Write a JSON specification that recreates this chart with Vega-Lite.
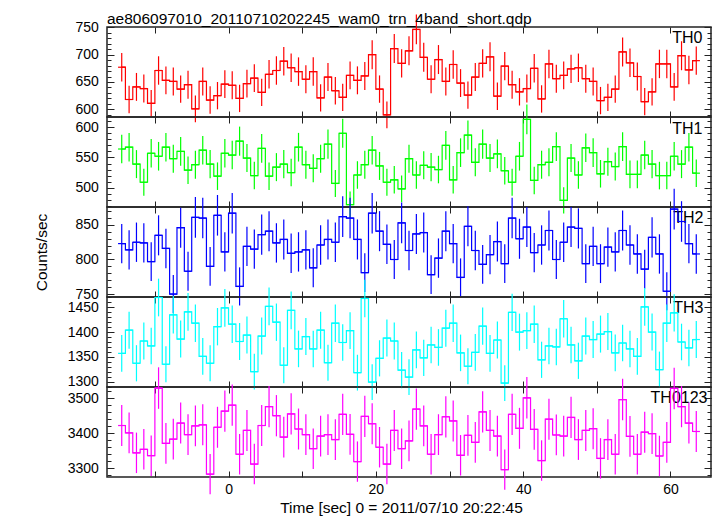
{
"$schema": "https://vega.github.io/schema/vega-lite/v6.json",
"padding": {"left": 33, "top": 11, "right": 0, "bottom": 0},
"title": {"text": "ae806097010_20110710202245_wam0_trn_4band_short.qdp", "anchor": "start", "frame": "group", "fontSize": 15.5, "offset": -26, "baseline": "alphabetic"},
"spacing": 0,
"bounds": "flush",
"config": {
 "font": "Liberation Sans",
 "view": {"stroke": "#222", "strokeWidth": 1.5},
 "axis": {"domain": false, "grid": false, "tickColor": "#222", "tickWidth": 1, "labelFontSize": 14, "labelColor": "#000", "labelFlush": false, "titleFontSize": 15.5, "titleFontWeight": "normal", "titleColor": "#000", "format": "d"},
 "title": {"fontWeight": "normal", "color": "#000"},
 "concat": {"spacing": 0}
},
"data": {"values": [
{"b":"TH0","t":-14.5,"s":-15,"f":-14,"r":677,"e":26},
{"b":"TH0","t":-13.5,"s":-14,"f":-13,"r":618,"e":25},
{"b":"TH0","t":-12.5,"s":-13,"f":-12,"r":641,"e":25.5},
{"b":"TH0","t":-11.5,"s":-12,"f":-11,"r":638,"e":25.5},
{"b":"TH0","t":-10.5,"s":-11,"f":-10,"r":611,"e":24.5},
{"b":"TH0","t":-9.5,"s":-10,"f":-9,"r":671,"e":26},
{"b":"TH0","t":-8.5,"s":-9,"f":-8,"r":653,"e":25.5},
{"b":"TH0","t":-7.5,"s":-8,"f":-7,"r":651,"e":25.5},
{"b":"TH0","t":-6.5,"s":-7,"f":-6,"r":637,"e":25},
{"b":"TH0","t":-5.5,"s":-6,"f":-5,"r":645,"e":25.5},
{"b":"TH0","t":-4.5,"s":-5,"f":-4,"r":601,"e":24.5},
{"b":"TH0","t":-3.5,"s":-4,"f":-3,"r":651,"e":25.5},
{"b":"TH0","t":-2.5,"s":-3,"f":-2,"r":617,"e":25},
{"b":"TH0","t":-1.5,"s":-2,"f":-1,"r":625,"e":25},
{"b":"TH0","t":-0.5,"s":-1,"f":0,"r":646,"e":25.5},
{"b":"TH0","t":0.5,"s":0,"f":1,"r":644,"e":25.5},
{"b":"TH0","t":1.5,"s":1,"f":2,"r":620,"e":25},
{"b":"TH0","t":2.5,"s":2,"f":3,"r":647,"e":25.5},
{"b":"TH0","t":3.5,"s":3,"f":4,"r":657,"e":25.5},
{"b":"TH0","t":4.5,"s":4,"f":5,"r":631,"e":25},
{"b":"TH0","t":5.5,"s":5,"f":6,"r":664,"e":26},
{"b":"TH0","t":6.5,"s":6,"f":7,"r":671,"e":26},
{"b":"TH0","t":7.5,"s":7,"f":8,"r":688,"e":26},
{"b":"TH0","t":8.5,"s":8,"f":9,"r":676,"e":26},
{"b":"TH0","t":9.5,"s":9,"f":10,"r":669,"e":26},
{"b":"TH0","t":10.5,"s":10,"f":11,"r":655,"e":25.5},
{"b":"TH0","t":11.5,"s":11,"f":12,"r":669,"e":26},
{"b":"TH0","t":12.5,"s":12,"f":13,"r":621,"e":25},
{"b":"TH0","t":13.5,"s":13,"f":14,"r":659,"e":25.5},
{"b":"TH0","t":14.5,"s":14,"f":15,"r":634,"e":25},
{"b":"TH0","t":15.5,"s":15,"f":16,"r":622,"e":25},
{"b":"TH0","t":16.5,"s":16,"f":17,"r":662,"e":25.5},
{"b":"TH0","t":17.5,"s":17,"f":18,"r":653,"e":25.5},
{"b":"TH0","t":18.5,"s":18,"f":19,"r":661,"e":25.5},
{"b":"TH0","t":19.5,"s":19,"f":20,"r":700,"e":26.5},
{"b":"TH0","t":20.5,"s":20,"f":21,"r":637,"e":25},
{"b":"TH0","t":21.5,"s":21,"f":22,"r":590,"e":24.5},
{"b":"TH0","t":22.5,"s":22,"f":23,"r":711,"e":26.5},
{"b":"TH0","t":23.5,"s":23,"f":24,"r":684,"e":26},
{"b":"TH0","t":24.5,"s":24,"f":25,"r":707,"e":26.5},
{"b":"TH0","t":25.5,"s":25,"f":26,"r":746,"e":27.2},
{"b":"TH0","t":26.5,"s":26,"f":27,"r":695,"e":26.5},
{"b":"TH0","t":27.5,"s":27,"f":28,"r":655,"e":25.5},
{"b":"TH0","t":28.5,"s":28,"f":29,"r":691,"e":26.5},
{"b":"TH0","t":29.5,"s":29,"f":30,"r":651,"e":25.5},
{"b":"TH0","t":30.5,"s":30,"f":31,"r":682,"e":26},
{"b":"TH0","t":31.5,"s":31,"f":32,"r":648,"e":25.5},
{"b":"TH0","t":32.5,"s":32,"f":33,"r":626,"e":25},
{"b":"TH0","t":33.5,"s":33,"f":34,"r":659,"e":25.5},
{"b":"TH0","t":34.5,"s":34,"f":35,"r":684,"e":26},
{"b":"TH0","t":35.5,"s":35,"f":36,"r":696,"e":26.5},
{"b":"TH0","t":36.5,"s":36,"f":37,"r":624,"e":25},
{"b":"TH0","t":37.5,"s":37,"f":38,"r":679,"e":26},
{"b":"TH0","t":38.5,"s":38,"f":39,"r":645,"e":25.5},
{"b":"TH0","t":39.5,"s":39,"f":40,"r":632,"e":25},
{"b":"TH0","t":40.5,"s":40,"f":41,"r":638,"e":25.5},
{"b":"TH0","t":41.5,"s":41,"f":42,"r":675,"e":26},
{"b":"TH0","t":42.5,"s":42,"f":43,"r":619,"e":25},
{"b":"TH0","t":43.5,"s":43,"f":44,"r":683,"e":26},
{"b":"TH0","t":44.5,"s":44,"f":45,"r":656,"e":25.5},
{"b":"TH0","t":45.5,"s":45,"f":46,"r":662,"e":25.5},
{"b":"TH0","t":46.5,"s":46,"f":47,"r":674,"e":26},
{"b":"TH0","t":47.5,"s":47,"f":48,"r":676,"e":26},
{"b":"TH0","t":48.5,"s":48,"f":49,"r":656,"e":25.5},
{"b":"TH0","t":49.5,"s":49,"f":50,"r":651,"e":25.5},
{"b":"TH0","t":50.5,"s":50,"f":51,"r":616,"e":25},
{"b":"TH0","t":51.5,"s":51,"f":52,"r":622,"e":25},
{"b":"TH0","t":52.5,"s":52,"f":53,"r":637,"e":25},
{"b":"TH0","t":53.5,"s":53,"f":54,"r":705,"e":26.5},
{"b":"TH0","t":54.5,"s":54,"f":55,"r":685,"e":26},
{"b":"TH0","t":55.5,"s":55,"f":56,"r":660,"e":25.5},
{"b":"TH0","t":56.5,"s":56,"f":57,"r":614,"e":25},
{"b":"TH0","t":57.5,"s":57,"f":58,"r":632,"e":25},
{"b":"TH0","t":58.5,"s":58,"f":59,"r":683,"e":26},
{"b":"TH0","t":59.5,"s":59,"f":60,"r":683,"e":26},
{"b":"TH0","t":60.5,"s":60,"f":61,"r":641,"e":25.5},
{"b":"TH0","t":61.5,"s":61,"f":62,"r":698,"e":26.5},
{"b":"TH0","t":62.5,"s":62,"f":63,"r":672,"e":26},
{"b":"TH0","t":63.5,"s":63,"f":64,"r":689,"e":26},
{"b":"TH1","t":-14.5,"s":-15,"f":-14,"r":564,"e":23.7},
{"b":"TH1","t":-13.5,"s":-14,"f":-13,"r":567,"e":23.7},
{"b":"TH1","t":-12.5,"s":-13,"f":-12,"r":539,"e":23.2},
{"b":"TH1","t":-11.5,"s":-12,"f":-11,"r":509,"e":22.3},
{"b":"TH1","t":-10.5,"s":-11,"f":-10,"r":557,"e":23.7},
{"b":"TH1","t":-9.5,"s":-10,"f":-9,"r":552,"e":23.7},
{"b":"TH1","t":-8.5,"s":-9,"f":-8,"r":567,"e":23.7},
{"b":"TH1","t":-7.5,"s":-8,"f":-7,"r":548,"e":23.2},
{"b":"TH1","t":-6.5,"s":-7,"f":-6,"r":560,"e":23.7},
{"b":"TH1","t":-5.5,"s":-6,"f":-5,"r":529,"e":22.8},
{"b":"TH1","t":-4.5,"s":-5,"f":-4,"r":538,"e":23.2},
{"b":"TH1","t":-3.5,"s":-4,"f":-3,"r":562,"e":23.7},
{"b":"TH1","t":-2.5,"s":-3,"f":-2,"r":539,"e":23.2},
{"b":"TH1","t":-1.5,"s":-2,"f":-1,"r":519,"e":22.8},
{"b":"TH1","t":-0.5,"s":-1,"f":0,"r":557,"e":23.7},
{"b":"TH1","t":0.5,"s":0,"f":1,"r":554,"e":23.7},
{"b":"TH1","t":1.5,"s":1,"f":2,"r":577,"e":24.1},
{"b":"TH1","t":2.5,"s":2,"f":3,"r":549,"e":23.2},
{"b":"TH1","t":3.5,"s":3,"f":4,"r":520,"e":22.8},
{"b":"TH1","t":4.5,"s":4,"f":5,"r":565,"e":23.7},
{"b":"TH1","t":5.5,"s":5,"f":6,"r":519,"e":22.8},
{"b":"TH1","t":6.5,"s":6,"f":7,"r":534,"e":23.2},
{"b":"TH1","t":7.5,"s":7,"f":8,"r":539,"e":23.2},
{"b":"TH1","t":8.5,"s":8,"f":9,"r":525,"e":22.8},
{"b":"TH1","t":9.5,"s":9,"f":10,"r":567,"e":23.7},
{"b":"TH1","t":10.5,"s":10,"f":11,"r":538,"e":23.2},
{"b":"TH1","t":11.5,"s":11,"f":12,"r":532,"e":23.2},
{"b":"TH1","t":12.5,"s":12,"f":13,"r":548,"e":23.2},
{"b":"TH1","t":13.5,"s":13,"f":14,"r":572,"e":24.1},
{"b":"TH1","t":14.5,"s":14,"f":15,"r":507,"e":22.3},
{"b":"TH1","t":15.5,"s":15,"f":16,"r":590,"e":24.1},
{"b":"TH1","t":16.5,"s":16,"f":17,"r":472,"e":21.8},
{"b":"TH1","t":17.5,"s":17,"f":18,"r":521,"e":22.8},
{"b":"TH1","t":18.5,"s":18,"f":19,"r":538,"e":23.2},
{"b":"TH1","t":19.5,"s":19,"f":20,"r":562,"e":23.7},
{"b":"TH1","t":20.5,"s":20,"f":21,"r":536,"e":23.2},
{"b":"TH1","t":21.5,"s":21,"f":22,"r":509,"e":22.3},
{"b":"TH1","t":22.5,"s":22,"f":23,"r":513,"e":22.8},
{"b":"TH1","t":23.5,"s":23,"f":24,"r":498,"e":22.3},
{"b":"TH1","t":24.5,"s":24,"f":25,"r":548,"e":23.2},
{"b":"TH1","t":25.5,"s":25,"f":26,"r":521,"e":22.8},
{"b":"TH1","t":26.5,"s":26,"f":27,"r":537,"e":23.2},
{"b":"TH1","t":27.5,"s":27,"f":28,"r":534,"e":23.2},
{"b":"TH1","t":28.5,"s":28,"f":29,"r":530,"e":22.8},
{"b":"TH1","t":29.5,"s":29,"f":30,"r":570,"e":23.7},
{"b":"TH1","t":30.5,"s":30,"f":31,"r":513,"e":22.8},
{"b":"TH1","t":31.5,"s":31,"f":32,"r":558,"e":23.7},
{"b":"TH1","t":32.5,"s":32,"f":33,"r":587,"e":24.1},
{"b":"TH1","t":33.5,"s":33,"f":34,"r":542,"e":23.2},
{"b":"TH1","t":34.5,"s":34,"f":35,"r":572,"e":24.1},
{"b":"TH1","t":35.5,"s":35,"f":36,"r":549,"e":23.2},
{"b":"TH1","t":36.5,"s":36,"f":37,"r":556,"e":23.7},
{"b":"TH1","t":37.5,"s":37,"f":38,"r":528,"e":22.8},
{"b":"TH1","t":38.5,"s":38,"f":39,"r":509,"e":22.3},
{"b":"TH1","t":39.5,"s":39,"f":40,"r":552,"e":23.7},
{"b":"TH1","t":40.5,"s":40,"f":41,"r":613,"e":24.7},
{"b":"TH1","t":41.5,"s":41,"f":42,"r":512,"e":22.8},
{"b":"TH1","t":42.5,"s":42,"f":43,"r":538,"e":23.2},
{"b":"TH1","t":43.5,"s":43,"f":44,"r":542,"e":23.2},
{"b":"TH1","t":44.5,"s":44,"f":45,"r":568,"e":23.7},
{"b":"TH1","t":45.5,"s":45,"f":46,"r":479,"e":21.8},
{"b":"TH1","t":46.5,"s":46,"f":47,"r":549,"e":23.2},
{"b":"TH1","t":47.5,"s":47,"f":48,"r":521,"e":22.8},
{"b":"TH1","t":48.5,"s":48,"f":49,"r":566,"e":23.7},
{"b":"TH1","t":49.5,"s":49,"f":50,"r":558,"e":23.7},
{"b":"TH1","t":50.5,"s":50,"f":51,"r":523,"e":22.8},
{"b":"TH1","t":51.5,"s":51,"f":52,"r":543,"e":23.2},
{"b":"TH1","t":52.5,"s":52,"f":53,"r":535,"e":23.2},
{"b":"TH1","t":53.5,"s":53,"f":54,"r":568,"e":23.7},
{"b":"TH1","t":54.5,"s":54,"f":55,"r":522,"e":22.8},
{"b":"TH1","t":55.5,"s":55,"f":56,"r":522,"e":22.8},
{"b":"TH1","t":56.5,"s":56,"f":57,"r":554,"e":23.7},
{"b":"TH1","t":57.5,"s":57,"f":58,"r":539,"e":23.2},
{"b":"TH1","t":58.5,"s":58,"f":59,"r":520,"e":22.8},
{"b":"TH1","t":59.5,"s":59,"f":60,"r":520,"e":22.8},
{"b":"TH1","t":60.5,"s":60,"f":61,"r":552,"e":23.7},
{"b":"TH1","t":61.5,"s":61,"f":62,"r":539,"e":23.2},
{"b":"TH1","t":62.5,"s":62,"f":63,"r":567,"e":23.7},
{"b":"TH1","t":63.5,"s":63,"f":64,"r":524,"e":22.8},
{"b":"TH2","t":-14.5,"s":-15,"f":-14,"r":823,"e":28.5},
{"b":"TH2","t":-13.5,"s":-14,"f":-13,"r":814,"e":28.5},
{"b":"TH2","t":-12.5,"s":-13,"f":-12,"r":825,"e":28.5},
{"b":"TH2","t":-11.5,"s":-12,"f":-11,"r":824,"e":28.5},
{"b":"TH2","t":-10.5,"s":-11,"f":-10,"r":797,"e":28.1},
{"b":"TH2","t":-9.5,"s":-10,"f":-9,"r":835,"e":29},
{"b":"TH2","t":-8.5,"s":-9,"f":-8,"r":816,"e":28.5},
{"b":"TH2","t":-7.5,"s":-8,"f":-7,"r":750,"e":27.6},
{"b":"TH2","t":-6.5,"s":-7,"f":-6,"r":846,"e":29},
{"b":"TH2","t":-5.5,"s":-6,"f":-5,"r":783,"e":28.1},
{"b":"TH2","t":-4.5,"s":-5,"f":-4,"r":861,"e":29.4},
{"b":"TH2","t":-3.5,"s":-4,"f":-3,"r":860,"e":29.4},
{"b":"TH2","t":-2.5,"s":-3,"f":-2,"r":790,"e":28.1},
{"b":"TH2","t":-1.5,"s":-2,"f":-1,"r":864,"e":29.4},
{"b":"TH2","t":-0.5,"s":-1,"f":0,"r":811,"e":28.5},
{"b":"TH2","t":0.5,"s":0,"f":1,"r":867,"e":29.4},
{"b":"TH2","t":1.5,"s":1,"f":2,"r":761,"e":27.6},
{"b":"TH2","t":2.5,"s":2,"f":3,"r":819,"e":28.5},
{"b":"TH2","t":3.5,"s":3,"f":4,"r":815,"e":28.5},
{"b":"TH2","t":4.5,"s":4,"f":5,"r":836,"e":29},
{"b":"TH2","t":5.5,"s":5,"f":6,"r":841,"e":29},
{"b":"TH2","t":6.5,"s":6,"f":7,"r":824,"e":28.5},
{"b":"TH2","t":7.5,"s":7,"f":8,"r":829,"e":29},
{"b":"TH2","t":8.5,"s":8,"f":9,"r":809,"e":28.5},
{"b":"TH2","t":9.5,"s":9,"f":10,"r":811,"e":28.5},
{"b":"TH2","t":10.5,"s":10,"f":11,"r":814,"e":28.5},
{"b":"TH2","t":11.5,"s":11,"f":12,"r":788,"e":28.1},
{"b":"TH2","t":12.5,"s":12,"f":13,"r":821,"e":28.5},
{"b":"TH2","t":13.5,"s":13,"f":14,"r":829,"e":29},
{"b":"TH2","t":14.5,"s":14,"f":15,"r":825,"e":28.5},
{"b":"TH2","t":15.5,"s":15,"f":16,"r":862,"e":29.4},
{"b":"TH2","t":16.5,"s":16,"f":17,"r":860,"e":29.4},
{"b":"TH2","t":17.5,"s":17,"f":18,"r":829,"e":29},
{"b":"TH2","t":18.5,"s":18,"f":19,"r":781,"e":28.1},
{"b":"TH2","t":19.5,"s":19,"f":20,"r":867,"e":29.4},
{"b":"TH2","t":20.5,"s":20,"f":21,"r":841,"e":29},
{"b":"TH2","t":21.5,"s":21,"f":22,"r":822,"e":28.5},
{"b":"TH2","t":22.5,"s":22,"f":23,"r":800,"e":28.1},
{"b":"TH2","t":23.5,"s":23,"f":24,"r":853,"e":29.4},
{"b":"TH2","t":24.5,"s":24,"f":25,"r":813,"e":28.5},
{"b":"TH2","t":25.5,"s":25,"f":26,"r":837,"e":29},
{"b":"TH2","t":26.5,"s":26,"f":27,"r":839,"e":29},
{"b":"TH2","t":27.5,"s":27,"f":28,"r":778,"e":28.1},
{"b":"TH2","t":28.5,"s":28,"f":29,"r":802,"e":28.5},
{"b":"TH2","t":29.5,"s":29,"f":30,"r":841,"e":29},
{"b":"TH2","t":30.5,"s":30,"f":31,"r":823,"e":28.5},
{"b":"TH2","t":31.5,"s":31,"f":32,"r":774,"e":27.6},
{"b":"TH2","t":32.5,"s":32,"f":33,"r":848,"e":29},
{"b":"TH2","t":33.5,"s":33,"f":34,"r":813,"e":28.5},
{"b":"TH2","t":34.5,"s":34,"f":35,"r":793,"e":28.1},
{"b":"TH2","t":35.5,"s":35,"f":36,"r":807,"e":28.5},
{"b":"TH2","t":36.5,"s":36,"f":37,"r":826,"e":29},
{"b":"TH2","t":37.5,"s":37,"f":38,"r":794,"e":28.1},
{"b":"TH2","t":38.5,"s":38,"f":39,"r":860,"e":29.4},
{"b":"TH2","t":39.5,"s":39,"f":40,"r":830,"e":29},
{"b":"TH2","t":40.5,"s":40,"f":41,"r":847,"e":29},
{"b":"TH2","t":41.5,"s":41,"f":42,"r":810,"e":28.5},
{"b":"TH2","t":42.5,"s":42,"f":43,"r":821,"e":28.5},
{"b":"TH2","t":43.5,"s":43,"f":44,"r":842,"e":29},
{"b":"TH2","t":44.5,"s":44,"f":45,"r":800,"e":28.1},
{"b":"TH2","t":45.5,"s":45,"f":46,"r":825,"e":28.5},
{"b":"TH2","t":46.5,"s":46,"f":47,"r":847,"e":29},
{"b":"TH2","t":47.5,"s":47,"f":48,"r":845,"e":29},
{"b":"TH2","t":48.5,"s":48,"f":49,"r":794,"e":28.1},
{"b":"TH2","t":49.5,"s":49,"f":50,"r":819,"e":28.5},
{"b":"TH2","t":50.5,"s":50,"f":51,"r":794,"e":28.1},
{"b":"TH2","t":51.5,"s":51,"f":52,"r":818,"e":28.5},
{"b":"TH2","t":52.5,"s":52,"f":53,"r":811,"e":28.5},
{"b":"TH2","t":53.5,"s":53,"f":54,"r":842,"e":29},
{"b":"TH2","t":54.5,"s":54,"f":55,"r":821,"e":28.5},
{"b":"TH2","t":55.5,"s":55,"f":56,"r":808,"e":28.5},
{"b":"TH2","t":56.5,"s":56,"f":57,"r":786,"e":28.1},
{"b":"TH2","t":57.5,"s":57,"f":58,"r":832,"e":29},
{"b":"TH2","t":58.5,"s":58,"f":59,"r":808,"e":28.5},
{"b":"TH2","t":59.5,"s":59,"f":60,"r":754,"e":27.6},
{"b":"TH2","t":60.5,"s":60,"f":61,"r":873,"e":29.4},
{"b":"TH2","t":61.5,"s":61,"f":62,"r":855,"e":29.4},
{"b":"TH2","t":62.5,"s":62,"f":63,"r":823,"e":28.5},
{"b":"TH2","t":63.5,"s":63,"f":64,"r":808,"e":28.5},
{"b":"TH3","t":-14.5,"s":-15,"f":-14,"r":1357,"e":37},
{"b":"TH3","t":-13.5,"s":-14,"f":-13,"r":1404,"e":37.4},
{"b":"TH3","t":-12.5,"s":-13,"f":-12,"r":1337,"e":36.6},
{"b":"TH3","t":-11.5,"s":-12,"f":-11,"r":1382,"e":37.4},
{"b":"TH3","t":-10.5,"s":-11,"f":-10,"r":1372,"e":37},
{"b":"TH3","t":-9.5,"s":-10,"f":-9,"r":1470,"e":38.1},
{"b":"TH3","t":-8.5,"s":-9,"f":-8,"r":1335,"e":36.6},
{"b":"TH3","t":-7.5,"s":-8,"f":-7,"r":1435,"e":37.8},
{"b":"TH3","t":-6.5,"s":-7,"f":-6,"r":1386,"e":37.4},
{"b":"TH3","t":-5.5,"s":-6,"f":-5,"r":1441,"e":38.1},
{"b":"TH3","t":-4.5,"s":-5,"f":-4,"r":1418,"e":37.8},
{"b":"TH3","t":-3.5,"s":-4,"f":-3,"r":1351,"e":37},
{"b":"TH3","t":-2.5,"s":-3,"f":-2,"r":1337,"e":36.6},
{"b":"TH3","t":-1.5,"s":-2,"f":-1,"r":1411,"e":37.8},
{"b":"TH3","t":-0.5,"s":-1,"f":0,"r":1449,"e":38.1},
{"b":"TH3","t":0.5,"s":0,"f":1,"r":1416,"e":37.8},
{"b":"TH3","t":1.5,"s":1,"f":2,"r":1381,"e":37.4},
{"b":"TH3","t":2.5,"s":2,"f":3,"r":1394,"e":37.4},
{"b":"TH3","t":3.5,"s":3,"f":4,"r":1320,"e":36.2},
{"b":"TH3","t":4.5,"s":4,"f":5,"r":1392,"e":37.4},
{"b":"TH3","t":5.5,"s":5,"f":6,"r":1452,"e":38.1},
{"b":"TH3","t":6.5,"s":6,"f":7,"r":1420,"e":37.8},
{"b":"TH3","t":7.5,"s":7,"f":8,"r":1333,"e":36.6},
{"b":"TH3","t":8.5,"s":8,"f":9,"r":1444,"e":38.1},
{"b":"TH3","t":9.5,"s":9,"f":10,"r":1366,"e":37},
{"b":"TH3","t":10.5,"s":10,"f":11,"r":1391,"e":37.4},
{"b":"TH3","t":11.5,"s":11,"f":12,"r":1366,"e":37},
{"b":"TH3","t":12.5,"s":12,"f":13,"r":1404,"e":37.4},
{"b":"TH3","t":13.5,"s":13,"f":14,"r":1338,"e":36.6},
{"b":"TH3","t":14.5,"s":14,"f":15,"r":1418,"e":37.8},
{"b":"TH3","t":15.5,"s":15,"f":16,"r":1379,"e":37},
{"b":"TH3","t":16.5,"s":16,"f":17,"r":1403,"e":37.4},
{"b":"TH3","t":17.5,"s":17,"f":18,"r":1318,"e":36.2},
{"b":"TH3","t":18.5,"s":18,"f":19,"r":1468,"e":38.1},
{"b":"TH3","t":19.5,"s":19,"f":20,"r":1299,"e":36.2},
{"b":"TH3","t":20.5,"s":20,"f":21,"r":1347,"e":36.6},
{"b":"TH3","t":21.5,"s":21,"f":22,"r":1388,"e":37.4},
{"b":"TH3","t":22.5,"s":22,"f":23,"r":1382,"e":37.4},
{"b":"TH3","t":23.5,"s":23,"f":24,"r":1323,"e":36.6},
{"b":"TH3","t":24.5,"s":24,"f":25,"r":1309,"e":36.2},
{"b":"TH3","t":25.5,"s":25,"f":26,"r":1364,"e":37},
{"b":"TH3","t":26.5,"s":26,"f":27,"r":1348,"e":36.6},
{"b":"TH3","t":27.5,"s":27,"f":28,"r":1374,"e":37},
{"b":"TH3","t":28.5,"s":28,"f":29,"r":1369,"e":37},
{"b":"TH3","t":29.5,"s":29,"f":30,"r":1408,"e":37.4},
{"b":"TH3","t":30.5,"s":30,"f":31,"r":1418,"e":37.8},
{"b":"TH3","t":31.5,"s":31,"f":32,"r":1358,"e":37},
{"b":"TH3","t":32.5,"s":32,"f":33,"r":1331,"e":36.6},
{"b":"TH3","t":33.5,"s":33,"f":34,"r":1359,"e":37},
{"b":"TH3","t":34.5,"s":34,"f":35,"r":1412,"e":37.8},
{"b":"TH3","t":35.5,"s":35,"f":36,"r":1357,"e":37},
{"b":"TH3","t":36.5,"s":36,"f":37,"r":1384,"e":37.4},
{"b":"TH3","t":37.5,"s":37,"f":38,"r":1297,"e":36.2},
{"b":"TH3","t":38.5,"s":38,"f":39,"r":1440,"e":37.8},
{"b":"TH3","t":39.5,"s":39,"f":40,"r":1400,"e":37.4},
{"b":"TH3","t":40.5,"s":40,"f":41,"r":1403,"e":37.4},
{"b":"TH3","t":41.5,"s":41,"f":42,"r":1416,"e":37.8},
{"b":"TH3","t":42.5,"s":42,"f":43,"r":1344,"e":36.6},
{"b":"TH3","t":43.5,"s":43,"f":44,"r":1372,"e":37},
{"b":"TH3","t":44.5,"s":44,"f":45,"r":1370,"e":37},
{"b":"TH3","t":45.5,"s":45,"f":46,"r":1427,"e":37.8},
{"b":"TH3","t":46.5,"s":46,"f":47,"r":1374,"e":37},
{"b":"TH3","t":47.5,"s":47,"f":48,"r":1342,"e":36.6},
{"b":"TH3","t":48.5,"s":48,"f":49,"r":1392,"e":37.4},
{"b":"TH3","t":49.5,"s":49,"f":50,"r":1385,"e":37.4},
{"b":"TH3","t":50.5,"s":50,"f":51,"r":1396,"e":37.4},
{"b":"TH3","t":51.5,"s":51,"f":52,"r":1401,"e":37.4},
{"b":"TH3","t":52.5,"s":52,"f":53,"r":1358,"e":37},
{"b":"TH3","t":53.5,"s":53,"f":54,"r":1378,"e":37},
{"b":"TH3","t":54.5,"s":54,"f":55,"r":1366,"e":37},
{"b":"TH3","t":55.5,"s":55,"f":56,"r":1351,"e":37},
{"b":"TH3","t":56.5,"s":56,"f":57,"r":1451,"e":38.1},
{"b":"TH3","t":57.5,"s":57,"f":58,"r":1400,"e":37.4},
{"b":"TH3","t":58.5,"s":58,"f":59,"r":1324,"e":36.6},
{"b":"TH3","t":59.5,"s":59,"f":60,"r":1418,"e":37.8},
{"b":"TH3","t":60.5,"s":60,"f":61,"r":1439,"e":37.8},
{"b":"TH3","t":61.5,"s":61,"f":62,"r":1380,"e":37},
{"b":"TH3","t":62.5,"s":62,"f":63,"r":1368,"e":37},
{"b":"TH3","t":63.5,"s":63,"f":64,"r":1385,"e":37.4},
{"b":"TH0123","t":-14.5,"s":-15,"f":-14,"r":3422,"e":58.5},
{"b":"TH0123","t":-13.5,"s":-14,"f":-13,"r":3401,"e":58.5},
{"b":"TH0123","t":-12.5,"s":-13,"f":-12,"r":3344,"e":57.8},
{"b":"TH0123","t":-11.5,"s":-12,"f":-11,"r":3354,"e":57.8},
{"b":"TH0123","t":-10.5,"s":-11,"f":-10,"r":3336,"e":57.8},
{"b":"TH0123","t":-9.5,"s":-10,"f":-9,"r":3529,"e":59.3},
{"b":"TH0123","t":-8.5,"s":-9,"f":-8,"r":3371,"e":58.2},
{"b":"TH0123","t":-7.5,"s":-8,"f":-7,"r":3383,"e":58.2},
{"b":"TH0123","t":-6.5,"s":-7,"f":-6,"r":3429,"e":58.5},
{"b":"TH0123","t":-5.5,"s":-6,"f":-5,"r":3396,"e":58.2},
{"b":"TH0123","t":-4.5,"s":-5,"f":-4,"r":3421,"e":58.5},
{"b":"TH0123","t":-3.5,"s":-4,"f":-3,"r":3424,"e":58.5},
{"b":"TH0123","t":-2.5,"s":-3,"f":-2,"r":3283,"e":57.6},
{"b":"TH0123","t":-1.5,"s":-2,"f":-1,"r":3417,"e":58.5},
{"b":"TH0123","t":-0.5,"s":-1,"f":0,"r":3463,"e":58.9},
{"b":"TH0123","t":0.5,"s":0,"f":1,"r":3480,"e":58.9},
{"b":"TH0123","t":1.5,"s":1,"f":2,"r":3340,"e":57.8},
{"b":"TH0123","t":2.5,"s":2,"f":3,"r":3408,"e":58.5},
{"b":"TH0123","t":3.5,"s":3,"f":4,"r":3312,"e":57.6},
{"b":"TH0123","t":4.5,"s":4,"f":5,"r":3422,"e":58.5},
{"b":"TH0123","t":5.5,"s":5,"f":6,"r":3476,"e":58.9},
{"b":"TH0123","t":6.5,"s":6,"f":7,"r":3450,"e":58.9},
{"b":"TH0123","t":7.5,"s":7,"f":8,"r":3389,"e":58.2},
{"b":"TH0123","t":8.5,"s":8,"f":9,"r":3455,"e":58.9},
{"b":"TH0123","t":9.5,"s":9,"f":10,"r":3412,"e":58.5},
{"b":"TH0123","t":10.5,"s":10,"f":11,"r":3396,"e":58.2},
{"b":"TH0123","t":11.5,"s":11,"f":12,"r":3356,"e":57.8},
{"b":"TH0123","t":12.5,"s":12,"f":13,"r":3392,"e":58.2},
{"b":"TH0123","t":13.5,"s":13,"f":14,"r":3396,"e":58.2},
{"b":"TH0123","t":14.5,"s":14,"f":15,"r":3382,"e":58.2},
{"b":"TH0123","t":15.5,"s":15,"f":16,"r":3454,"e":58.9},
{"b":"TH0123","t":16.5,"s":16,"f":17,"r":3397,"e":58.2},
{"b":"TH0123","t":17.5,"s":17,"f":18,"r":3319,"e":57.6},
{"b":"TH0123","t":18.5,"s":18,"f":19,"r":3448,"e":58.9},
{"b":"TH0123","t":19.5,"s":19,"f":20,"r":3427,"e":58.5},
{"b":"TH0123","t":20.5,"s":20,"f":21,"r":3360,"e":57.8},
{"b":"TH0123","t":21.5,"s":21,"f":22,"r":3312,"e":57.6},
{"b":"TH0123","t":22.5,"s":22,"f":23,"r":3408,"e":58.5},
{"b":"TH0123","t":23.5,"s":23,"f":24,"r":3356,"e":57.8},
{"b":"TH0123","t":24.5,"s":24,"f":25,"r":3378,"e":58.2},
{"b":"TH0123","t":25.5,"s":25,"f":26,"r":3469,"e":58.9},
{"b":"TH0123","t":26.5,"s":26,"f":27,"r":3421,"e":58.5},
{"b":"TH0123","t":27.5,"s":27,"f":28,"r":3340,"e":57.8},
{"b":"TH0123","t":28.5,"s":28,"f":29,"r":3396,"e":58.2},
{"b":"TH0123","t":29.5,"s":29,"f":30,"r":3447,"e":58.9},
{"b":"TH0123","t":30.5,"s":30,"f":31,"r":3435,"e":58.5},
{"b":"TH0123","t":31.5,"s":31,"f":32,"r":3337,"e":57.8},
{"b":"TH0123","t":32.5,"s":32,"f":33,"r":3394,"e":58.2},
{"b":"TH0123","t":33.5,"s":33,"f":34,"r":3374,"e":58.2},
{"b":"TH0123","t":34.5,"s":34,"f":35,"r":3461,"e":58.9},
{"b":"TH0123","t":35.5,"s":35,"f":36,"r":3408,"e":58.5},
{"b":"TH0123","t":36.5,"s":36,"f":37,"r":3392,"e":58.2},
{"b":"TH0123","t":37.5,"s":37,"f":38,"r":3296,"e":57.6},
{"b":"TH0123","t":38.5,"s":38,"f":39,"r":3454,"e":58.9},
{"b":"TH0123","t":39.5,"s":39,"f":40,"r":3414,"e":58.5},
{"b":"TH0123","t":40.5,"s":40,"f":41,"r":3501,"e":59.3},
{"b":"TH0123","t":41.5,"s":41,"f":42,"r":3411,"e":58.5},
{"b":"TH0123","t":42.5,"s":42,"f":43,"r":3322,"e":57.8},
{"b":"TH0123","t":43.5,"s":43,"f":44,"r":3440,"e":58.5},
{"b":"TH0123","t":44.5,"s":44,"f":45,"r":3395,"e":58.2},
{"b":"TH0123","t":45.5,"s":45,"f":46,"r":3392,"e":58.2},
{"b":"TH0123","t":46.5,"s":46,"f":47,"r":3445,"e":58.9},
{"b":"TH0123","t":47.5,"s":47,"f":48,"r":3382,"e":58.2},
{"b":"TH0123","t":48.5,"s":48,"f":49,"r":3408,"e":58.5},
{"b":"TH0123","t":49.5,"s":49,"f":50,"r":3413,"e":58.5},
{"b":"TH0123","t":50.5,"s":50,"f":51,"r":3328,"e":57.8},
{"b":"TH0123","t":51.5,"s":51,"f":52,"r":3382,"e":58.2},
{"b":"TH0123","t":52.5,"s":52,"f":53,"r":3340,"e":57.8},
{"b":"TH0123","t":53.5,"s":53,"f":54,"r":3496,"e":59.3},
{"b":"TH0123","t":54.5,"s":54,"f":55,"r":3391,"e":58.2},
{"b":"TH0123","t":55.5,"s":55,"f":56,"r":3340,"e":57.8},
{"b":"TH0123","t":56.5,"s":56,"f":57,"r":3403,"e":58.5},
{"b":"TH0123","t":57.5,"s":57,"f":58,"r":3399,"e":58.2},
{"b":"TH0123","t":58.5,"s":58,"f":59,"r":3335,"e":57.8},
{"b":"TH0123","t":59.5,"s":59,"f":60,"r":3374,"e":58.2},
{"b":"TH0123","t":60.5,"s":60,"f":61,"r":3528,"e":59.3},
{"b":"TH0123","t":61.5,"s":61,"f":62,"r":3476,"e":58.9},
{"b":"TH0123","t":62.5,"s":62,"f":63,"r":3429,"e":58.5},
{"b":"TH0123","t":63.5,"s":63,"f":64,"r":3405,"e":58.5}
]},
"vconcat": [
{
 "width": 604, "height": 90,
 "transform": [{"filter": "datum.b === 'TH0'"}],
 "layer": [
  {"mark": {"type": "line", "interpolate": "step", "color": "#ff0000", "strokeWidth": 1.2},
   "encoding": {
    "x": {"field": "t", "type": "quantitative", "scale": {"domain": [-16.5, 65.5], "nice": false, "zero": false}, "axis": {"orient": "bottom", "values": [-10,0,10,20,30,40,50,60], "tickSize": -6, "labels": false, "title": null}},
    "y": {"field": "r", "type": "quantitative", "scale": {"domain": [586, 750.5], "nice": false, "zero": false}, "axis": {"orient": "left", "values": [600,650,700,750], "tickSize": -7, "labelPadding": 15.7, "title": null}}
   }},
  {"mark": {"type": "errorbar", "color": "#ff0000", "thickness": 1.2},
   "encoding": {
    "x": {"field": "t", "type": "quantitative", "scale": {"domain": [-16.5, 65.5], "nice": false, "zero": false}, "axis": {"orient": "top", "values": [-10,0,10,20,30,40,50,60], "tickSize": -6, "labels": false, "title": null}},
    "y": {"field": "r", "type": "quantitative", "scale": {"domain": [586, 750.5], "nice": false, "zero": false}, "axis": {"orient": "left", "values": [590,600,610,620,630,640,650,660,670,680,690,700,710,720,730,740,750], "tickSize": -4, "labels": false, "title": null}},
    "yError": {"field": "e"}
   }},
  {"mark": {"type": "rule", "color": "#ff0000", "strokeWidth": 1.2},
   "encoding": {
    "x": {"field": "s", "type": "quantitative", "scale": {"domain": [-16.5, 65.5], "nice": false, "zero": false}, "axis": null},
    "x2": {"field": "f"},
    "y": {"field": "r", "type": "quantitative", "scale": {"domain": [586, 750.5], "nice": false, "zero": false}, "axis": {"orient": "right", "values": [600,650,700,750], "tickSize": -7, "labels": false, "title": null}}
   }},
  {"mark": {"type": "rule", "opacity": 0},
   "encoding": {
    "x": {"field": "s", "type": "quantitative", "scale": {"domain": [-16.5, 65.5], "nice": false, "zero": false}, "axis": null},
    "x2": {"field": "f"},
    "y": {"field": "r", "type": "quantitative", "scale": {"domain": [586, 750.5], "nice": false, "zero": false}, "axis": {"orient": "right", "values": [590,600,610,620,630,640,650,660,670,680,690,700,710,720,730,740,750], "tickSize": -4, "labels": false, "title": "TH0", "titleX": -9, "titleY": 15.7, "titleAngle": 0, "titleAlign": "right", "titleBaseline": "alphabetic", "titleFontSize": 16}}
   }}
 ],
 "resolve": {"axis": {"x": "independent", "y": "independent"}}
},
{
 "width": 604, "height": 90,
 "transform": [{"filter": "datum.b === 'TH1'"}],
 "layer": [
  {"mark": {"type": "line", "interpolate": "step", "color": "#00ff00", "strokeWidth": 1.2},
   "encoding": {
    "x": {"field": "t", "type": "quantitative", "scale": {"domain": [-16.5, 65.5], "nice": false, "zero": false}, "axis": {"orient": "bottom", "values": [-10,0,10,20,30,40,50,60], "tickSize": -6, "labels": false, "title": null}},
    "y": {"field": "r", "type": "quantitative", "scale": {"domain": [468, 617], "nice": false, "zero": false}, "axis": {"orient": "left", "values": [500,550,600], "tickSize": -7, "labelPadding": 15.7, "title": null}}
   }},
  {"mark": {"type": "errorbar", "color": "#00ff00", "thickness": 1.2},
   "encoding": {
    "x": {"field": "t", "type": "quantitative", "scale": {"domain": [-16.5, 65.5], "nice": false, "zero": false}, "axis": {"orient": "top", "values": [-10,0,10,20,30,40,50,60], "tickSize": -6, "labels": false, "title": null}},
    "y": {"field": "r", "type": "quantitative", "scale": {"domain": [468, 617], "nice": false, "zero": false}, "axis": {"orient": "left", "values": [470,480,490,500,510,520,530,540,550,560,570,580,590,600,610], "tickSize": -4, "labels": false, "title": null}},
    "yError": {"field": "e"}
   }},
  {"mark": {"type": "rule", "color": "#00ff00", "strokeWidth": 1.2},
   "encoding": {
    "x": {"field": "s", "type": "quantitative", "scale": {"domain": [-16.5, 65.5], "nice": false, "zero": false}, "axis": null},
    "x2": {"field": "f"},
    "y": {"field": "r", "type": "quantitative", "scale": {"domain": [468, 617], "nice": false, "zero": false}, "axis": {"orient": "right", "values": [500,550,600], "tickSize": -7, "labels": false, "title": null}}
   }},
  {"mark": {"type": "rule", "opacity": 0},
   "encoding": {
    "x": {"field": "s", "type": "quantitative", "scale": {"domain": [-16.5, 65.5], "nice": false, "zero": false}, "axis": null},
    "x2": {"field": "f"},
    "y": {"field": "r", "type": "quantitative", "scale": {"domain": [468, 617], "nice": false, "zero": false}, "axis": {"orient": "right", "values": [470,480,490,500,510,520,530,540,550,560,570,580,590,600,610], "tickSize": -4, "labels": false, "title": "TH1", "titleX": -9, "titleY": 16.5, "titleAngle": 0, "titleAlign": "right", "titleBaseline": "alphabetic", "titleFontSize": 16}}
   }}
 ],
 "resolve": {"axis": {"x": "independent", "y": "independent"}}
},
{
 "width": 604, "height": 90,
 "transform": [{"filter": "datum.b === 'TH2'"}],
 "layer": [
  {"mark": {"type": "line", "interpolate": "step", "color": "#0000ff", "strokeWidth": 1.2},
   "encoding": {
    "x": {"field": "t", "type": "quantitative", "scale": {"domain": [-16.5, 65.5], "nice": false, "zero": false}, "axis": {"orient": "bottom", "values": [-10,0,10,20,30,40,50,60], "tickSize": -6, "labels": false, "title": null}},
    "y": {"field": "r", "type": "quantitative", "scale": {"domain": [745.7, 876], "nice": false, "zero": false}, "axis": {"orient": "left", "values": [750,800,850], "tickSize": -7, "labelPadding": 15.7, "title": "Counts/sec", "titleX": -66, "titleY": 45, "titleAngle": -90, "titleAlign": "center", "titleBaseline": "middle"}}
   }},
  {"mark": {"type": "errorbar", "color": "#0000ff", "thickness": 1.2},
   "encoding": {
    "x": {"field": "t", "type": "quantitative", "scale": {"domain": [-16.5, 65.5], "nice": false, "zero": false}, "axis": {"orient": "top", "values": [-10,0,10,20,30,40,50,60], "tickSize": -6, "labels": false, "title": null}},
    "y": {"field": "r", "type": "quantitative", "scale": {"domain": [745.7, 876], "nice": false, "zero": false}, "axis": {"orient": "left", "values": [750,760,770,780,790,800,810,820,830,840,850,860,870], "tickSize": -4, "labels": false, "title": null}},
    "yError": {"field": "e"}
   }},
  {"mark": {"type": "rule", "color": "#0000ff", "strokeWidth": 1.2},
   "encoding": {
    "x": {"field": "s", "type": "quantitative", "scale": {"domain": [-16.5, 65.5], "nice": false, "zero": false}, "axis": null},
    "x2": {"field": "f"},
    "y": {"field": "r", "type": "quantitative", "scale": {"domain": [745.7, 876], "nice": false, "zero": false}, "axis": {"orient": "right", "values": [750,800,850], "tickSize": -7, "labels": false, "title": null}}
   }},
  {"mark": {"type": "rule", "opacity": 0},
   "encoding": {
    "x": {"field": "s", "type": "quantitative", "scale": {"domain": [-16.5, 65.5], "nice": false, "zero": false}, "axis": null},
    "x2": {"field": "f"},
    "y": {"field": "r", "type": "quantitative", "scale": {"domain": [745.7, 876], "nice": false, "zero": false}, "axis": {"orient": "right", "values": [750,760,770,780,790,800,810,820,830,840,850,860,870], "tickSize": -4, "labels": false, "title": "TH2", "titleX": -8, "titleY": 15.7, "titleAngle": 0, "titleAlign": "right", "titleBaseline": "alphabetic", "titleFontSize": 16}}
   }}
 ],
 "resolve": {"axis": {"x": "independent", "y": "independent"}}
},
{
 "width": 604, "height": 90,
 "transform": [{"filter": "datum.b === 'TH3'"}],
 "layer": [
  {"mark": {"type": "line", "interpolate": "step", "color": "#00ffff", "strokeWidth": 1.2},
   "encoding": {
    "x": {"field": "t", "type": "quantitative", "scale": {"domain": [-16.5, 65.5], "nice": false, "zero": false}, "axis": {"orient": "bottom", "values": [-10,0,10,20,30,40,50,60], "tickSize": -6, "labels": false, "title": null}},
    "y": {"field": "r", "type": "quantitative", "scale": {"domain": [1289, 1471], "nice": false, "zero": false}, "axis": {"orient": "left", "values": [1300,1350,1400,1450], "tickSize": -7, "labelPadding": 15.7, "title": null}}
   }},
  {"mark": {"type": "errorbar", "color": "#00ffff", "thickness": 1.2},
   "encoding": {
    "x": {"field": "t", "type": "quantitative", "scale": {"domain": [-16.5, 65.5], "nice": false, "zero": false}, "axis": {"orient": "top", "values": [-10,0,10,20,30,40,50,60], "tickSize": -6, "labels": false, "title": null}},
    "y": {"field": "r", "type": "quantitative", "scale": {"domain": [1289, 1471], "nice": false, "zero": false}, "axis": {"orient": "left", "values": [1290,1300,1310,1320,1330,1340,1350,1360,1370,1380,1390,1400,1410,1420,1430,1440,1450,1460,1470], "tickSize": -4, "labels": false, "title": null}},
    "yError": {"field": "e"}
   }},
  {"mark": {"type": "rule", "color": "#00ffff", "strokeWidth": 1.2},
   "encoding": {
    "x": {"field": "s", "type": "quantitative", "scale": {"domain": [-16.5, 65.5], "nice": false, "zero": false}, "axis": null},
    "x2": {"field": "f"},
    "y": {"field": "r", "type": "quantitative", "scale": {"domain": [1289, 1471], "nice": false, "zero": false}, "axis": {"orient": "right", "values": [1300,1350,1400,1450], "tickSize": -7, "labels": false, "title": null}}
   }},
  {"mark": {"type": "rule", "opacity": 0},
   "encoding": {
    "x": {"field": "s", "type": "quantitative", "scale": {"domain": [-16.5, 65.5], "nice": false, "zero": false}, "axis": null},
    "x2": {"field": "f"},
    "y": {"field": "r", "type": "quantitative", "scale": {"domain": [1289, 1471], "nice": false, "zero": false}, "axis": {"orient": "right", "values": [1290,1300,1310,1320,1330,1340,1350,1360,1370,1380,1390,1400,1410,1420,1430,1440,1450,1460,1470], "tickSize": -4, "labels": false, "title": "TH3", "titleX": -8, "titleY": 15.7, "titleAngle": 0, "titleAlign": "right", "titleBaseline": "alphabetic", "titleFontSize": 16}}
   }}
 ],
 "resolve": {"axis": {"x": "independent", "y": "independent"}}
},
{
 "width": 604, "height": 90,
 "transform": [{"filter": "datum.b === 'TH0123'"}],
 "layer": [
  {"mark": {"type": "line", "interpolate": "step", "color": "#ff00ff", "strokeWidth": 1.2},
   "encoding": {
    "x": {"field": "t", "type": "quantitative", "scale": {"domain": [-16.5, 65.5], "nice": false, "zero": false}, "axis": {"orient": "bottom", "values": [-10,0,10,20,30,40,50,60], "tickSize": -6, "labelPadding": 11, "labelExpr": "datum.value % 20 === 0 ? datum.label : ''", "title": "Time [sec] 0 = 2011/07/10 20:22:45", "titleX": 294, "titleY": 35, "titleAlign": "center", "titleBaseline": "alphabetic"}},
    "y": {"field": "r", "type": "quantitative", "scale": {"domain": [3275, 3532], "nice": false, "zero": false}, "axis": {"orient": "left", "values": [3300,3400,3500], "tickSize": -7, "labelPadding": 15.7, "title": null}}
   }},
  {"mark": {"type": "errorbar", "color": "#ff00ff", "thickness": 1.2},
   "encoding": {
    "x": {"field": "t", "type": "quantitative", "scale": {"domain": [-16.5, 65.5], "nice": false, "zero": false}, "axis": {"orient": "top", "values": [-10,0,10,20,30,40,50,60], "tickSize": -6, "labels": false, "title": null}},
    "y": {"field": "r", "type": "quantitative", "scale": {"domain": [3275, 3532], "nice": false, "zero": false}, "axis": {"orient": "left", "values": [3280,3300,3320,3340,3360,3380,3400,3420,3440,3460,3480,3500,3520], "tickSize": -4, "labels": false, "title": null}},
    "yError": {"field": "e"}
   }},
  {"mark": {"type": "rule", "color": "#ff00ff", "strokeWidth": 1.2},
   "encoding": {
    "x": {"field": "s", "type": "quantitative", "scale": {"domain": [-16.5, 65.5], "nice": false, "zero": false}, "axis": null},
    "x2": {"field": "f"},
    "y": {"field": "r", "type": "quantitative", "scale": {"domain": [3275, 3532], "nice": false, "zero": false}, "axis": {"orient": "right", "values": [3300,3400,3500], "tickSize": -7, "labels": false, "title": null}}
   }},
  {"mark": {"type": "rule", "opacity": 0},
   "encoding": {
    "x": {"field": "s", "type": "quantitative", "scale": {"domain": [-16.5, 65.5], "nice": false, "zero": false}, "axis": null},
    "x2": {"field": "f"},
    "y": {"field": "r", "type": "quantitative", "scale": {"domain": [3275, 3532], "nice": false, "zero": false}, "axis": {"orient": "right", "values": [3280,3300,3320,3340,3360,3380,3400,3420,3440,3460,3480,3500,3520], "tickSize": -4, "labels": false, "title": "TH0123", "titleX": -4, "titleY": 15.7, "titleAngle": 0, "titleAlign": "right", "titleBaseline": "alphabetic", "titleFontSize": 16}}
   }}
 ],
 "resolve": {"axis": {"x": "independent", "y": "independent"}}
}
]
}
